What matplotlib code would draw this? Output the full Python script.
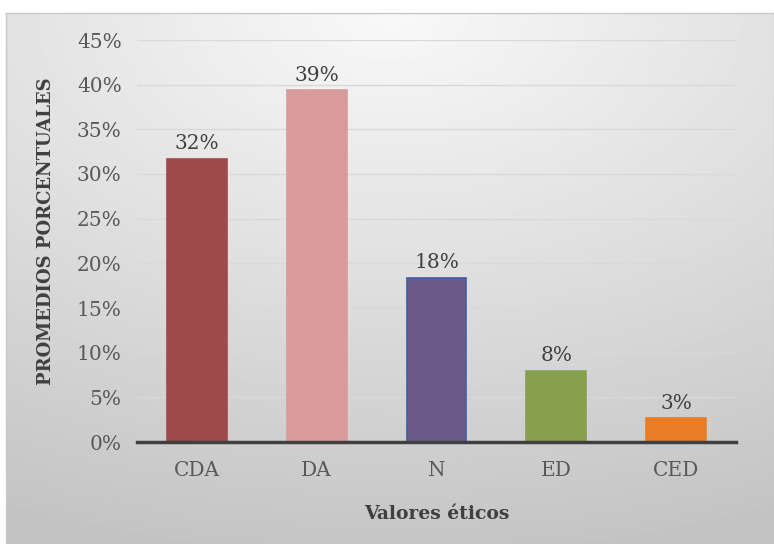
import matplotlib.pyplot as plt
import numpy as np

categorias = ['CDA', 'DA', 'N', 'ED', 'CED']
promedios = [0.317, 0.394, 0.184, 0.080, 0.027]
colores = ['#9E4A4A', '#D99A9C', '#6E5A8A', '#86A050', '#E87D25']
bordes = ['#9E4A4A', '#D99A9C', '#3D5FA8', '#86A050', '#E87D25']
ticks_y = np.arange(0, 0.451, 0.05)

fuente = 'DejaVu Serif'
gris = '#595959'

fig = plt.figure(figsize=(7.74, 5.44), dpi=100)
fig.patch.set_facecolor('white')

# fondo con degradado radial, como el de Excel
fondo = fig.add_axes([6 / 774, 0, 1 - 6 / 774, 1 - 13 / 544], zorder=0)
yy, xx = np.mgrid[0:1:300j, 0:1:400j]
dist = np.sqrt((xx - 0.5) ** 2 + (yy * 1.15) ** 2)
val = 0.975 - 0.21 * np.clip(dist, 0, 1.2) / 1.2
fondo.imshow(val, cmap='gray', vmin=0, vmax=1, aspect='auto',
             extent=[0, 1, 1, 0], interpolation='bilinear')
fondo.set_xticks([])
fondo.set_yticks([])
for s in fondo.spines.values():
    s.set_color('#C8C8C8')
    s.set_linewidth(1)

ax = fig.add_axes([137 / 774, 1 - 442 / 544, 599 / 774, 402 / 544], zorder=1)
ax.patch.set_alpha(0)

x = np.arange(len(categorias))
barras = ax.bar(x, promedios, width=0.5, color=colores, edgecolor=bordes,
                linewidth=1.2, zorder=3)

for b, v in zip(barras, promedios):
    ax.text(b.get_x() + b.get_width() / 2, v + 0.006, f'{v * 100:.0f}%',
            ha='center', va='bottom', fontsize=14.5, color='#404040',
            family=fuente, zorder=4)

ax.set_xlim(-0.5, len(categorias) - 0.5)
ax.set_ylim(0, 0.45)
ax.set_yticks(ticks_y)
ax.set_yticklabels([f'{t * 100:.0f}%' for t in ticks_y])
ax.set_xticks(x)
ax.set_xticklabels(categorias)
ax.tick_params(axis='both', length=0, labelsize=14.5, labelcolor=gris)
ax.tick_params(axis='y', pad=11)
ax.tick_params(axis='x', pad=14)
for lbl in ax.get_xticklabels() + ax.get_yticklabels():
    lbl.set_family(fuente)

ax.grid(axis='y', color='#D9D9D9', linewidth=1, zorder=1)
for s in ['top', 'right', 'left']:
    ax.spines[s].set_visible(False)
ax.spines['bottom'].set_color('#404040')
ax.spines['bottom'].set_linewidth(2.5)
ax.spines['bottom'].set_zorder(5)

ax.set_ylabel('PROMEDIOS PORCENTUALES', fontsize=13, fontweight='bold',
              color='#404040', family=fuente)
ax.yaxis.set_label_coords(-0.137, 0.525)
ax.set_xlabel('Valores éticos', fontsize=13.5, fontweight='bold',
              color='#404040', family=fuente, labelpad=18)

fig.savefig('out.png', dpi=100)
